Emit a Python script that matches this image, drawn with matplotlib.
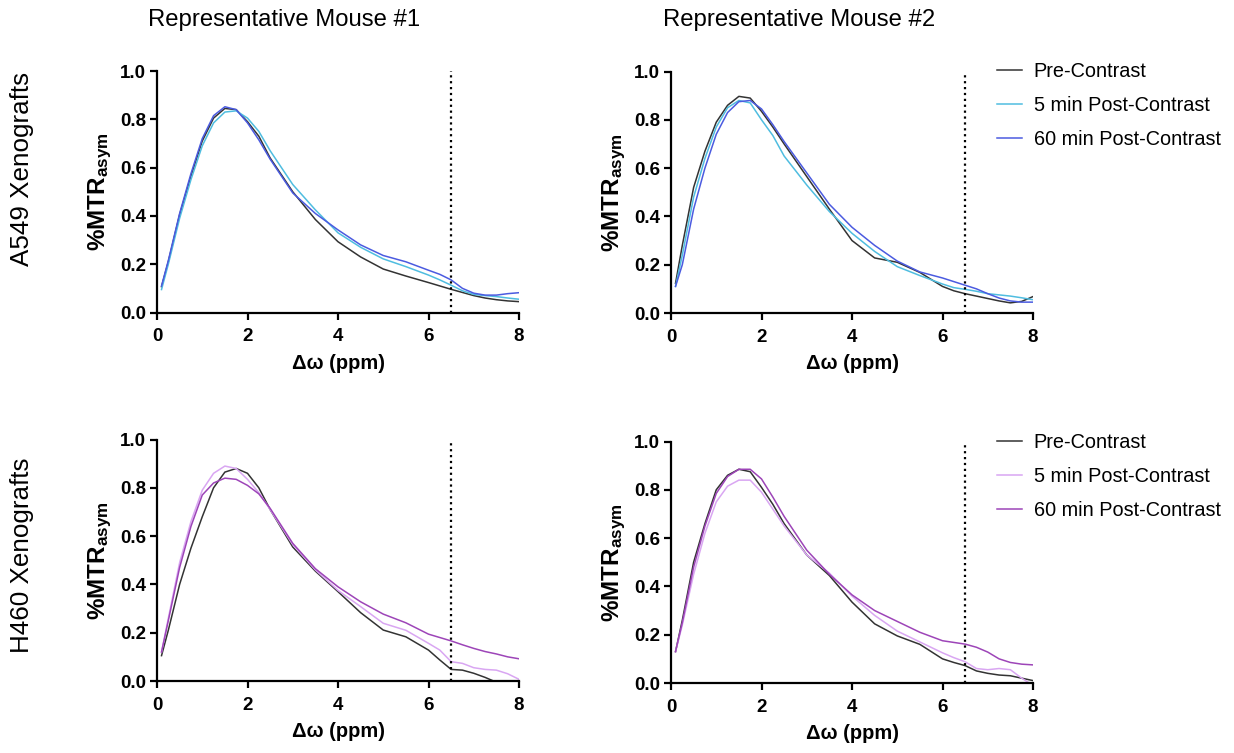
import matplotlib
matplotlib.use("Agg")
from matplotlib import pyplot as plt
import numpy as np

plt.rcParams['font.family'] = ['Liberation Sans', 'DejaVu Sans']
plt.rcParams['mathtext.fontset'] = 'custom'
plt.rcParams['mathtext.bf'] = 'Liberation Sans:bold'
plt.rcParams['mathtext.rm'] = 'Liberation Sans'

# offset (ppm) sampled along the curves
x = [0.1, 0.25, 0.5, 0.75, 1.0, 1.25, 1.5, 1.75, 2.0, 2.25, 2.5, 3.0, 3.5,
     4.0, 4.5, 5.0, 5.5, 6.0, 6.25, 6.5, 6.75, 7.0, 7.25, 7.5, 7.75, 8.0]

# A549, mouse 1
a1_pre = [0.107, 0.21, 0.405, 0.565, 0.71, 0.805, 0.845, 0.84, 0.79, 0.73, 0.64, 0.50, 0.385,
          0.293, 0.23, 0.18, 0.151, 0.124, 0.11, 0.096, 0.083, 0.07, 0.06, 0.053, 0.048, 0.045]
a1_5 = [0.095, 0.2, 0.39, 0.55, 0.69, 0.785, 0.83, 0.835, 0.805, 0.75, 0.67, 0.53, 0.425,
        0.33, 0.27, 0.222, 0.19, 0.155, 0.135, 0.113, 0.09, 0.075, 0.07, 0.066, 0.06, 0.055]
a1_60 = [0.11, 0.215, 0.41, 0.575, 0.72, 0.815, 0.852, 0.84, 0.785, 0.715, 0.635, 0.495, 0.41,
         0.342, 0.28, 0.236, 0.21, 0.175, 0.158, 0.135, 0.1, 0.08, 0.072, 0.072, 0.078, 0.082]

# A549, mouse 2
a2_pre = [0.123, 0.28, 0.52, 0.67, 0.79, 0.86, 0.897, 0.89, 0.835, 0.77, 0.70, 0.565, 0.43,
          0.30, 0.228, 0.21, 0.168, 0.11, 0.092, 0.08, 0.07, 0.06, 0.05, 0.042, 0.048, 0.068]
a2_5 = [0.11, 0.24, 0.48, 0.64, 0.77, 0.85, 0.88, 0.87, 0.80, 0.735, 0.65, 0.53, 0.42,
        0.33, 0.255, 0.192, 0.155, 0.12, 0.105, 0.098, 0.09, 0.08, 0.075, 0.07, 0.063, 0.055]
a2_60 = [0.11, 0.2, 0.43, 0.60, 0.74, 0.83, 0.875, 0.88, 0.845, 0.78, 0.71, 0.58, 0.45,
         0.355, 0.28, 0.215, 0.17, 0.145, 0.13, 0.115, 0.1, 0.08, 0.062, 0.05, 0.045, 0.045]

# H460, mouse 1
h1_pre = [0.105, 0.21, 0.40, 0.55, 0.68, 0.80, 0.865, 0.88, 0.86, 0.80, 0.71, 0.555, 0.455,
          0.37, 0.283, 0.211, 0.183, 0.128, 0.087, 0.048, 0.045, 0.032, 0.015, -0.005, -0.03, -0.05]
h1_5 = [0.12, 0.26, 0.49, 0.66, 0.79, 0.86, 0.89, 0.88, 0.835, 0.78, 0.71, 0.565, 0.46,
        0.375, 0.308, 0.239, 0.21, 0.156, 0.128, 0.08, 0.073, 0.055, 0.048, 0.045, 0.03, 0.007]
h1_60 = [0.12, 0.25, 0.47, 0.64, 0.77, 0.82, 0.84, 0.835, 0.81, 0.775, 0.715, 0.57, 0.465,
         0.39, 0.328, 0.277, 0.241, 0.194, 0.18, 0.166, 0.15, 0.135, 0.122, 0.112, 0.1, 0.092]

# H460, mouse 2
h2_pre = [0.13, 0.26, 0.50, 0.66, 0.80, 0.86, 0.885, 0.875, 0.81, 0.74, 0.66, 0.53, 0.445,
          0.335, 0.245, 0.195, 0.16, 0.10, 0.085, 0.072, 0.05, 0.04, 0.033, 0.03, 0.02, 0.01]
h2_5 = [0.13, 0.24, 0.45, 0.62, 0.75, 0.815, 0.84, 0.84, 0.79, 0.72, 0.65, 0.53, 0.455,
        0.36, 0.28, 0.215, 0.17, 0.125, 0.105, 0.088, 0.06, 0.055, 0.06, 0.055, 0.02, -0.01]
h2_60 = [0.13, 0.25, 0.48, 0.65, 0.785, 0.855, 0.885, 0.885, 0.845, 0.77, 0.69, 0.55, 0.45,
         0.365, 0.30, 0.255, 0.21, 0.175, 0.168, 0.161, 0.148, 0.128, 0.10, 0.085, 0.078, 0.075]

labels = ['Pre-Contrast', '5 min Post-Contrast', '60 min Post-Contrast']
a_colors = ['#333333', '#4fbde0', '#4b5be0']
h_colors = ['#333333', '#d9a6f2', '#9d45b8']
cutoff = 6.5

fig = plt.figure(figsize=(12.34, 7.53), dpi=100)
fig.patch.set_facecolor('white')

W, H = 1234, 753
boxes = [(157, 312.5), (671, 313), (157, 681), (671, 683)]
panels = [(a1_pre, a1_5, a1_60), (a2_pre, a2_5, a2_60),
          (h1_pre, h1_5, h1_60), (h2_pre, h2_5, h2_60)]
axes = []
for i, ((left, bottom), series) in enumerate(zip(boxes, panels)):
    ax = fig.add_axes([left / W, 1 - bottom / H, 362 / W, 241.5 / H])
    cols = a_colors if i < 2 else h_colors
    for s, c, lab in zip(series, cols, labels):
        ax.plot(x, s, color=c, lw=1.1, label=lab, solid_joinstyle='round')
    ax.axvline(cutoff, color='black', ls=':', lw=1.6)
    ax.set_xlim(0, 8)
    ax.set_ylim(0, 1.0)
    ax.set_xticks([0, 2, 4, 6, 8])
    ax.set_yticks([0.0, 0.2, 0.4, 0.6, 0.8, 1.0])
    ax.set_yticklabels(['0.0', '0.2', '0.4', '0.6', '0.8', '1.0'])
    for sp in ['top', 'right']:
        ax.spines[sp].set_visible(False)
    for sp in ['left', 'bottom']:
        ax.spines[sp].set_linewidth(1.6)
    ax.tick_params(axis='both', length=5, width=1.6, labelsize=13.5)
    ax.tick_params(axis='x', pad=6.5)
    ax.tick_params(axis='y', pad=3)
    for t in ax.get_xticklabels() + ax.get_yticklabels():
        t.set_fontweight('bold')
    ax.set_xlabel('Δω (ppm)', fontsize=14.5, fontweight='bold', labelpad=6)
    ax.set_ylabel(r'$\mathbf{\%MTR_{asym}}$', fontsize=17.5, labelpad=4)
    axes.append(ax)

for ax, ytop in [(axes[1], 62), (axes[3], 433)]:
    ax.legend(loc='upper left', bbox_to_anchor=(997 / W, 1 - ytop / H),
              bbox_transform=fig.transFigure, frameon=False, fontsize=14.3,
              handlelength=1.25, handletextpad=0.6, labelspacing=0.76,
              borderpad=0, borderaxespad=0)

fig.text(284 / W, 1 - 26 / H, 'Representative Mouse #1', fontsize=17.2, ha='center', va='baseline')
fig.text(799 / W, 1 - 26 / H, 'Representative Mouse #2', fontsize=17.2, ha='center', va='baseline')
fig.text(22 / W, 1 - 169 / H, 'A549 Xenografts', fontsize=18.7, rotation=90, ha='center', va='center')
fig.text(22 / W, 1 - 555 / H, 'H460 Xenografts', fontsize=18.7, rotation=90, ha='center', va='center')

fig.savefig('out.png', dpi=100)
